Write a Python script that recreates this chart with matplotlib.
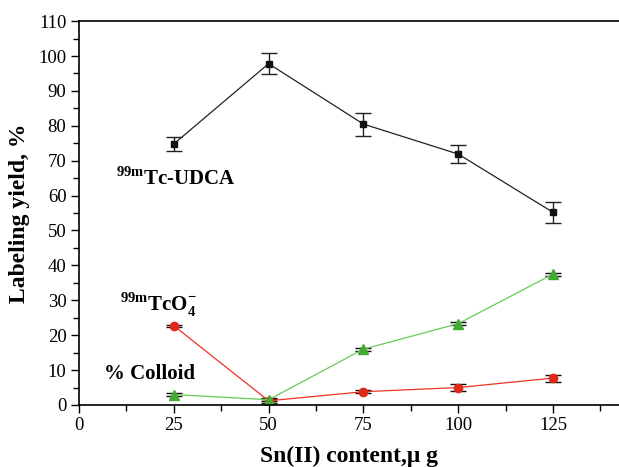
import matplotlib.pyplot as plt
import numpy as np

plt.rcParams['font.family'] = ['Liberation Serif', 'DejaVu Serif']
plt.rcParams['mathtext.fontset'] = 'custom'
plt.rcParams['mathtext.rm'] = 'Liberation Serif'
plt.rcParams['mathtext.bf'] = 'Liberation Serif:bold'

# Sn(II) content, ug
sn = [25, 50, 75, 100, 125]

# labeling yields, %
udca = [74.8, 97.8, 80.5, 71.9, 55.2]
udca_err = [2.0, 3.0, 3.3, 2.7, 3.0]
tco4 = [22.7, 1.2, 3.8, 5.0, 7.7]
tco4_err = [0.3, 0.5, 0.4, 1.0, 1.0]
colloid = [3.0, 1.5, 16.0, 23.3, 37.5]
colloid_err = [0.3, 0.4, 0.4, 0.4, 0.4]

fig = plt.figure(figsize=(6.19, 4.67), dpi=100)
ax = fig.add_axes([0.1276, 0.1328, 0.8724, 0.822])

ax.errorbar(sn, udca, yerr=udca_err, color='#222222', lw=0.9, marker='s', ms=5,
            mfc='#111111', mec='#111111', ecolor='#222222', elinewidth=1, capsize=6, capthick=1)
ax.errorbar(sn, tco4, yerr=tco4_err, color='#ee3322', lw=0.9, marker='o', ms=6,
            mfc='#dd2a1a', mec='#dd2a1a', ecolor='#111111', elinewidth=1, capsize=6, capthick=1)
ax.errorbar(sn, colloid, yerr=colloid_err, color='#66cc55', lw=0.9, marker='^', ms=7,
            mfc='#44aa33', mec='#44aa33', ecolor='#111111', elinewidth=1, capsize=6, capthick=1)

ax.set_xlim(0, 142.4)
ax.set_ylim(0, 110)
ax.set_xticks([0, 25, 50, 75, 100, 125])
ax.set_xticks(np.arange(12.5, 142, 25), minor=True)
ax.set_yticks(np.arange(0, 111, 10))
ax.set_yticks(np.arange(5, 110, 10), minor=True)
ax.tick_params(direction='out', length=6, width=1, labelsize=13.5, pad=3)
ax.tick_params(which='minor', direction='out', length=4, width=1)
ax.spines['right'].set_visible(False)
for s in ['left', 'bottom', 'top']:
    ax.spines[s].set_linewidth(1.2)

ax.set_xlabel('Sn(II) content,\u03bc g', fontsize=17, fontweight='bold', labelpad=8)
ax.set_ylabel('Labeling yield, %', fontsize=17, fontweight='bold', labelpad=6)

ax.text(9.7, 65, r'$^{\mathbf{99m}}$Tc-UDCA', fontsize=15, fontweight='bold', va='center')
ax.text(10.8, 28.7, r'$^{\mathbf{99m}}$TcO$_{\mathbf{4}}^{\mathbf{-}}$', fontsize=15,
        fontweight='bold', va='center')
ax.text(6.6, 9.0, '% Colloid', fontsize=15, fontweight='bold', va='center')

fig.savefig('out.png', dpi=100)
